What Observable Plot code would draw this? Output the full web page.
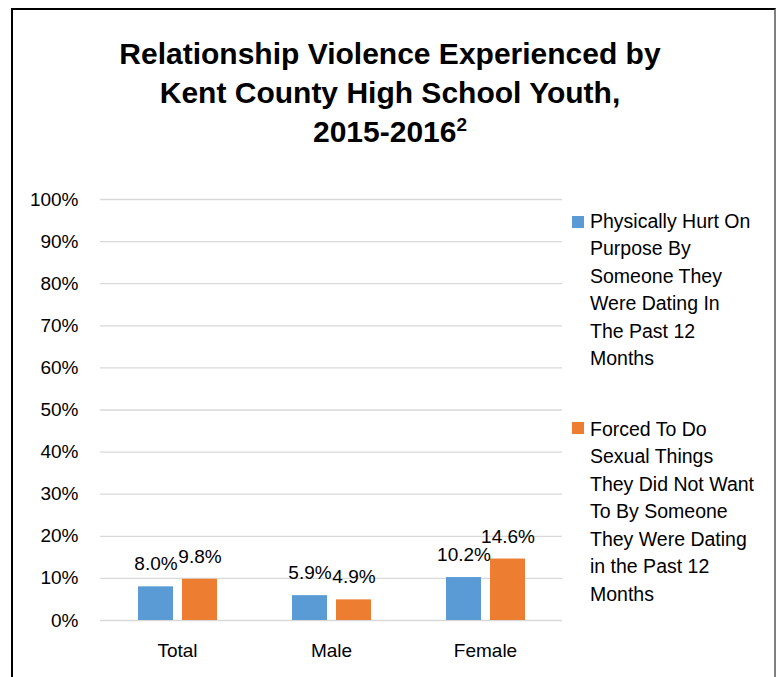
<!DOCTYPE html>
<html>
<head>
<meta charset="utf-8">
<script src="https://cdn.jsdelivr.net/npm/d3@7"></script>
<script src="https://cdn.jsdelivr.net/npm/@observablehq/plot@0.6"></script>
<style>
  html, body { margin: 0; padding: 0; background: #fff; }
  body { width: 776px; height: 677px; overflow: hidden; position: relative; font-family: "Liberation Sans", Arial, sans-serif; color: #000; }
  #frame { position: absolute; left: 11px; top: 8px; width: 765px; height: 700px;
           border-left: 2px solid #000; border-top: 2px solid #000; border-right: 2px solid #7f7f7f; box-sizing: border-box; }
  #title { position: absolute; left: 2px; width: 776px; top: 34px; text-align: center;
           font-weight: bold; font-size: 30px; line-height: 39px; }
  #title sup { font-size: 19px; line-height: 0; vertical-align: 11px; }
  #chart { position: absolute; left: 0; top: 170px; }
  .legend-item { position: absolute; left: 572px; font-size: 19.5px; line-height: 27.6px; }
  .legend-item .sw { position: absolute; left: 0; width: 12px; height: 12px; }
  .legend-item .tx { position: absolute; left: 18px; top: 0; white-space: nowrap; }
</style>
</head>
<body>
<div id="frame"></div>
<div id="title"></div>
<div id="chart"></div>
<div id="legend"></div>
<script>
// ---- data ----
const titleLines = ["Relationship Violence Experienced by", "Kent County High School Youth,", "2015-2016"];
const titleSup = "2";
const categories = ["Total", "Male", "Female"];
const seriesNames = [
  "Physically Hurt On Purpose By Someone They Were Dating In The Past 12 Months",
  "Forced To Do Sexual Things They Did Not Want To By Someone They Were Dating in the Past 12 Months"
];
const legendLinesHurt = ["Physically Hurt On", "Purpose By", "Someone They", "Were Dating In", "The Past 12", "Months"];
const legendLinesForced = ["Forced To Do", "Sexual Things", "They Did Not Want", "To By Someone", "They Were Dating", "in the Past 12", "Months"];
const physicallyHurt = [8.0, 5.9, 10.2];
const forcedSexual = [9.8, 4.9, 14.6];
const yTicks = [0, 10, 20, 30, 40, 50, 60, 70, 80, 90, 100];
const seriesColors = ["#5B9BD5", "#ED7D31"];

// ---- table ----
const table = [];
categories.forEach((c, i) => {
  table.push({category: c, series: seriesNames[0], value: physicallyHurt[i]});
  table.push({category: c, series: seriesNames[1], value: forcedSexual[i]});
});

// ---- title ----
document.getElementById("title").innerHTML =
  titleLines.slice(0, -1).join("<br>") + "<br>" + titleLines[titleLines.length - 1] + "<sup>" + titleSup + "</sup>";

// ---- chart ----
const chart = Plot.plot({
  width: 570,
  height: 500,
  marginLeft: 100,
  marginRight: 8,
  marginTop: 29,
  marginBottom: 50,
  style: {fontFamily: '"Liberation Sans", Arial, sans-serif', fontSize: "19px", color: "#000", background: "transparent", overflow: "visible"},
  facet: {data: table, x: "category"},
  fx: {domain: categories, padding: 0, label: null, axis: "bottom", tickSize: 0, tickPadding: 23},
  x: {domain: seriesNames, paddingInner: 9 / 44, paddingOuter: 0.852, axis: null},
  y: {domain: [0, 100], ticks: yTicks, tickFormat: d => d + "%", tickSize: 0, tickPadding: 22, label: null},
  color: {domain: seriesNames, range: seriesColors},
  marks: [
    Plot.ruleY(yTicks, {stroke: "#d9d9d9", strokeWidth: 1.3}),
    Plot.barY(table, {x: "series", y: "value", fill: "series"}),
    Plot.text(table, {x: "series", y: "value", text: d => d3.format(".1f")(d.value) + "%",
      lineAnchor: "middle", dy: -22.5, fontSize: 19, fill: "#000"})
  ]
});
document.getElementById("chart").appendChild(chart);

// ---- legend ----
const legend = document.getElementById("legend");
const legendSpecs = [
  {lines: legendLinesHurt, color: seriesColors[0], top: 207.5, swTop: 8.5},
  {lines: legendLinesForced, color: seriesColors[1], top: 415.5, swTop: 6.5}
];
legendSpecs.forEach(s => {
  const item = document.createElement("div");
  item.className = "legend-item";
  item.style.top = s.top + "px";
  const sw = document.createElement("div");
  sw.className = "sw";
  sw.style.background = s.color;
  sw.style.top = s.swTop + "px";
  const tx = document.createElement("div");
  tx.className = "tx";
  tx.innerHTML = s.lines.join("<br>");
  item.appendChild(sw);
  item.appendChild(tx);
  legend.appendChild(item);
});
</script>
</body>
</html>
